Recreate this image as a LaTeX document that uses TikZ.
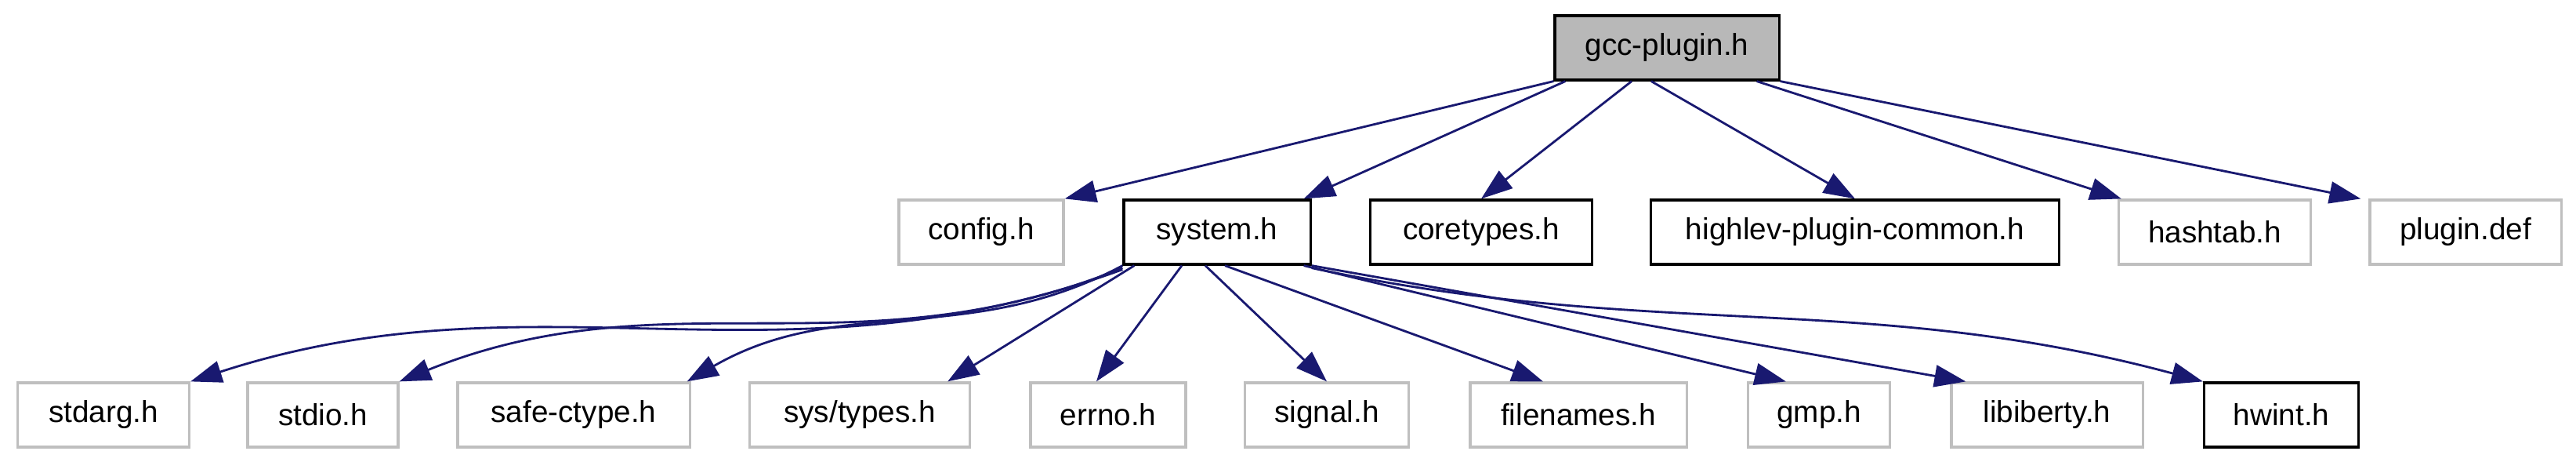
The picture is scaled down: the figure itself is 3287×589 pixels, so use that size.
\documentclass[tikz,border=0pt]{standalone}
\usepackage{fontspec}
\setmainfont{Liberation Sans}
\usetikzlibrary{arrows.meta}
\definecolor{edge}{HTML}{191970}
\begin{document}
\begin{tikzpicture}[x=0.01cm,y=-0.01cm,
  box/.style={draw=#1,line width=0.9pt,minimum height=0.82cm,inner sep=0pt,font=\fontsize{11}{13}\selectfont},
  box/.default={black!25},
  e/.style={draw=edge,line width=0.8pt,-{Triangle[length=0.4cm,width=0.28cm]}}]
\useasboundingbox (0,0) rectangle (3287,589);
\node[box=black,fill=black!28,minimum width=2.86cm] (g) at (2127,61) {gcc-plugin.h};
\node[box,minimum width=2.1cm] (cfg) at (1252,296) {config.h};
\node[box=black,minimum width=2.38cm] (sys) at (1553,296) {system.h};
\node[box=black,minimum width=2.83cm] (core) at (1890,296) {coretypes.h};
\node[box=black,minimum width=5.2cm] (hl) at (2367,296) {highlev-plugin-common.h};
\node[box,minimum width=2.45cm] (hash) at (2826,296) {hashtab.h};
\node[box,minimum width=2.44cm] (pd) at (3146,296) {plugin.def};
\node[box,minimum width=2.19cm] (sa) at (132,529) {stdarg.h};
\node[box,minimum width=1.92cm] (sio) at (412,529) {stdio.h};
\node[box,minimum width=2.96cm] (sc) at (732,529) {safe-ctype.h};
\node[box,minimum width=2.81cm] (st) at (1097,529) {sys/types.h};
\node[box,minimum width=1.98cm] (er) at (1414,529) {errno.h};
\node[box,minimum width=2.09cm] (sg) at (1693,529) {signal.h};
\node[box,minimum width=2.76cm] (fn) at (2014,529) {filenames.h};
\node[box,minimum width=1.81cm] (gmp) at (2321,529) {gmp.h};
\node[box,minimum width=2.44cm] (lib) at (2612,529) {libiberty.h};
\node[box=black,minimum width=1.97cm] (hw) at (2911,529) {hwint.h};
\draw[e] (g.south west) -- (cfg.north east);
\draw[e] ([xshift=0.15cm]g.south west) -- ([xshift=-0.1cm]sys.north east);
\draw[e] ([xshift=-0.45cm]g.south) -- (core.north);
\draw[e] ([xshift=-0.2cm]g.south) -- (hl.north);
\draw[e] ([xshift=-0.3cm]g.south east) -- ([xshift=0.05cm]hash.north west);
\draw[e] (g.south east) -- ([xshift=-0.1cm]pd.north west);
\draw[e] ([yshift=-0.05cm]sys.south west) to[out=-160,in=18] (sa.north east);
\draw[e] ([yshift=-0.03cm]sys.south west) to[out=-158,in=22] (sio.north east);
\draw[e] (sys.south west) to[out=-152,in=30] ([xshift=-0.05cm]sc.north east);
\draw[e] ([xshift=0.15cm]sys.south west) -- ([xshift=-0.3cm]st.north east);
\draw[e] ([xshift=-0.45cm]sys.south) -- ([xshift=-0.15cm]er.north);
\draw[e] ([xshift=-0.15cm]sys.south) -- (sg.north);
\draw[e] ([xshift=0.1cm]sys.south) -- ([xshift=-0.45cm]fn.north);
\draw[e] ([xshift=-0.1cm]sys.south east) -- ([xshift=0.5cm]gmp.north west);
\draw[e] (sys.south east) -- ([xshift=0.2cm]lib.north west);
\draw[e] ([yshift=-0.03cm]sys.south east) to[out=-12,in=165] (hw.north west);
\end{tikzpicture}
\end{document}
